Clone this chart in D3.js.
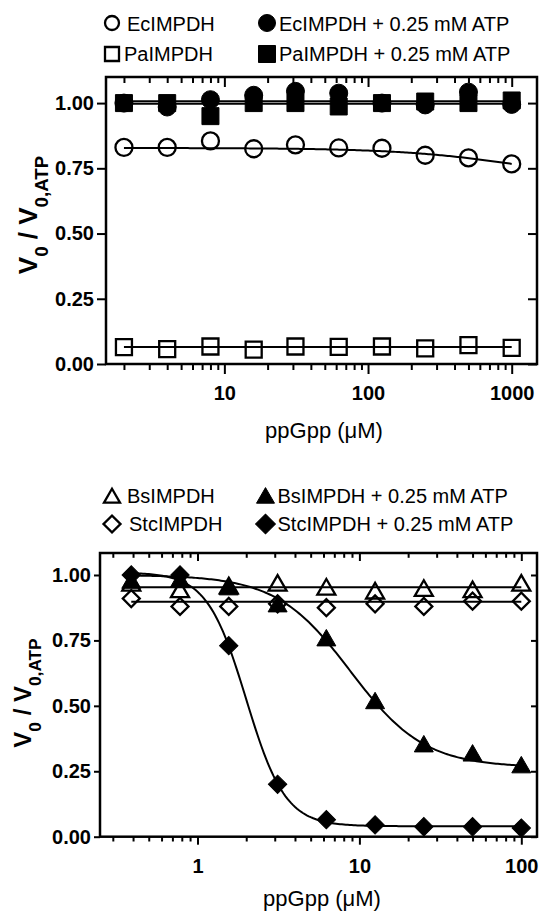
<!DOCTYPE html>
<html>
<head>
<meta charset="utf-8">
<script src="https://cdn.jsdelivr.net/npm/d3@7"></script>
<style>
  body { margin: 0; background: #fff; }
  svg { display: block; font-family: "Liberation Sans", Arial, sans-serif; }
  .tick text { font-family: "Liberation Sans", Arial, sans-serif; }
</style>
</head>
<body>
<div id="chart"></div>
<script>
// ---- data ----
var topConc = [2, 4, 8, 16, 31.25, 62.5, 125, 250, 500, 1000];
var ecImpdh = [0.83, 0.83, 0.855, 0.825, 0.84, 0.828, 0.827, 0.80, 0.79, 0.767];
var paImpdh = [0.065, 0.057, 0.067, 0.055, 0.067, 0.066, 0.067, 0.06, 0.072, 0.062];
var ecImpdhAtp = [1.0, 0.985, 1.013, 1.03, 1.045, 1.038, 1.0, 0.993, 1.042, 0.995];
var paImpdhAtp = [1.0, 1.0, 0.95, 1.0, 1.0, 0.987, 1.0, 1.006, 1.0, 1.01];

var botConc = [0.39, 0.78, 1.56, 3.125, 6.25, 12.5, 25, 50, 100];
var bsImpdh = [0.96, 0.935, 0.95, 0.96, 0.945, 0.93, 0.94, 0.935, 0.96];
var stcImpdh = [0.91, 0.88, 0.88, 0.89, 0.875, 0.89, 0.88, 0.9, 0.9];
var bsImpdhAtp = [0.97, 0.975, 0.945, 0.88, 0.75, 0.51, 0.345, 0.31, 0.265];
var stcImpdhAtp = [1.0, 1.0, 0.73, 0.2, 0.065, 0.045, 0.038, 0.038, 0.033];

// fitted dose-response parameters: [top, bottom, IC50, hill]
var ecFit = [0.828, 0.688, 1294, 1];
var paFit = [0.065, 0.065, 1, 1];
var ecAtpFit = [1.007, 1.007, 1, 1];
var paAtpFit = [0.997, 0.997, 1, 1];
var bsFit = [0.953, 0.953, 1, 1];
var stcFit = [0.898, 0.898, 1, 1];
var bsAtpFit = [1.0, 0.265, 8.8, 1.9];
var stcAtpFit = [1.01, 0.04, 2.0, 3.6];

var topMajor = [10, 100, 1000];
var botMajor = [1, 10, 100];
var yTicks = [0, 0.25, 0.5, 0.75, 1.0];

var W = 545, H = 915;
var FONT = "'Liberation Sans', Arial, sans-serif";

var svg = d3.select("#chart").append("svg")
    .attr("width", W)
    .attr("height", H);

svg.append("rect").attr("width", W).attr("height", H).attr("fill", "#fff");

function logistic(p, x) {
  return p[1] + (p[0] - p[1]) / (1 + Math.pow(x / p[2], p[3]));
}

function markerPath(type, size) {
  if (type == "circle") return d3.symbol(d3.symbolCircle, Math.PI * size * size)();
  if (type == "square" || type == "diamond") return d3.symbol(d3.symbolSquare, size * size)();
  if (type == "triangle") return d3.symbol(d3.symbolTriangle, size * size * Math.sqrt(3) / 4)();
}

function drawMarker(g, type, filled, size, x, y) {
  g.append("path")
      .attr("d", markerPath(type, size))
      .attr("transform", "translate(" + x + "," + y + ")" + (type == "diamond" ? " rotate(45)" : ""))
      .attr("fill", filled ? "#000" : "none")
      .attr("stroke", "#000")
      .attr("stroke-width", filled ? 1 : 2.3);
}

function drawPanel(p) {
  var g = svg.append("g");

  var x = d3.scaleLog().domain(p.xDomain).range([p.left, p.right]);
  var y = d3.scaleLinear().domain(p.yDomain).range([p.bottom, p.top]);

  var minor = x.ticks().filter(function(v) { return p.majors.indexOf(v) < 0; });

  // fitted curves
  var line = d3.line().x(function(d) { return x(d[0]); }).y(function(d) { return y(d[1]); });
  p.series.forEach(function(s) {
    var lo = Math.log10(d3.min(p.conc)), hi = Math.log10(d3.max(p.conc));
    var pts = d3.range(0, 201).map(function(i) {
      var c = Math.pow(10, lo + (hi - lo) * i / 200);
      return [c, logistic(s.fit, c)];
    });
    g.append("path")
        .attr("d", line(pts))
        .attr("fill", "none")
        .attr("stroke", "#000")
        .attr("stroke-width", 2);
  });

  // points
  p.series.forEach(function(s) {
    s.values.forEach(function(v, i) {
      drawMarker(g, s.shape, s.filled, s.size, x(p.conc[i]), y(v));
    });
  });

  // frame
  g.append("rect")
      .attr("x", p.left).attr("y", p.top)
      .attr("width", p.right - p.left).attr("height", p.bottom - p.top)
      .attr("fill", "none").attr("stroke", "#000").attr("stroke-width", 2.5);

  function styleAxis(a) {
    a.select(".domain").remove();
    a.selectAll(".tick line").attr("stroke", "#000").attr("stroke-width", 2);
    a.selectAll(".tick text")
        .attr("fill", "#000")
        .style("font", "bold 20px " + FONT);
  }

  // bottom axis
  g.append("g").attr("transform", "translate(0," + p.bottom + ")")
      .call(d3.axisBottom(x).tickValues(p.majors).tickSize(p.xTick).tickPadding(p.xPad).tickFormat(d3.format("d")))
      .call(styleAxis);
  g.append("g").attr("transform", "translate(0," + p.bottom + ")")
      .call(d3.axisBottom(x).tickValues(minor).tickSize(p.xTick * 0.6).tickFormat(""))
      .call(styleAxis);
  // top mirror ticks (inward)
  g.append("g").attr("transform", "translate(0," + p.top + ")")
      .call(d3.axisBottom(x).tickValues(p.majors).tickSize(p.xTick).tickFormat(""))
      .call(styleAxis);
  g.append("g").attr("transform", "translate(0," + p.top + ")")
      .call(d3.axisBottom(x).tickValues(minor).tickSize(p.xTick * 0.6).tickFormat(""))
      .call(styleAxis);
  // left axis
  g.append("g").attr("transform", "translate(" + p.left + ",0)")
      .call(d3.axisLeft(y).tickValues(yTicks).tickSize(p.yTick).tickPadding(3).tickFormat(d3.format(".2f")))
      .call(styleAxis);
  // right mirror ticks (inward)
  g.append("g").attr("transform", "translate(" + p.right + ",0)")
      .call(d3.axisLeft(y).tickValues(yTicks).tickSize(p.yTick).tickFormat(""))
      .call(styleAxis);

  // axis titles
  g.append("text")
      .attr("x", p.xTitleX).attr("y", p.xTitleY)
      .attr("text-anchor", "middle")
      .style("font", "22px " + FONT)
      .text("ppGpp (\u03BCM)");

  var yl = g.append("text")
      .attr("transform", "translate(" + p.yTitleX + "," + p.yTitleY + ") rotate(-90)")
      .attr("text-anchor", "middle")
      .style("font", "bold " + p.yTitleSize + "px " + FONT);
  yl.append("tspan").text("V");
  yl.append("tspan").attr("baseline-shift", "sub").attr("font-size", "72%").text("0");
  yl.append("tspan").text(" / V");
  yl.append("tspan").attr("baseline-shift", "sub").attr("font-size", "72%").text("0,ATP");

  // legend
  p.legend.forEach(function(l) {
    drawMarker(g, l.shape, l.filled, l.size, l.mx, l.my);
    g.append("text")
        .attr("x", l.tx).attr("y", l.ty)
        .style("font", "20px " + FONT)
        .text(l.label);
  });
}

drawPanel({
  left: 106, right: 537, top: 77, bottom: 364,
  xDomain: [1.5, 1500], yDomain: [0, 1.1],
  majors: topMajor, conc: topConc,
  xTick: 10, xPad: 12, yTick: 9,
  xTitleX: 324, xTitleY: 438,
  yTitleX: 37, yTitleY: 215, yTitleSize: 26,
  series: [
    {values: ecImpdh, fit: ecFit, shape: "circle", filled: false, size: 8.5},
    {values: paImpdh, fit: paFit, shape: "square", filled: false, size: 16},
    {values: ecImpdhAtp, fit: ecAtpFit, shape: "circle", filled: true, size: 9},
    {values: paImpdhAtp, fit: paAtpFit, shape: "square", filled: true, size: 17}
  ],
  legend: [
    {label: "EcIMPDH", shape: "circle", filled: false, size: 7, mx: 112, my: 23, tx: 127, ty: 30.5},
    {label: "PaIMPDH", shape: "square", filled: false, size: 14, mx: 112, my: 54, tx: 124, ty: 61},
    {label: "EcIMPDH + 0.25 mM ATP", shape: "circle", filled: true, size: 8.5, mx: 267, my: 23, tx: 279, ty: 30.5},
    {label: "PaIMPDH + 0.25 mM ATP", shape: "square", filled: true, size: 17, mx: 267, my: 54, tx: 279, ty: 61}
  ]
});

drawPanel({
  left: 100, right: 537, top: 553, bottom: 836.7,
  xDomain: [0.25, 125], yDomain: [0, 1.084],
  majors: botMajor, conc: botConc,
  xTick: 8, xPad: 14, yTick: 6,
  xTitleX: 322, xTitleY: 906,
  yTitleX: 31, yTitleY: 693, yTitleSize: 24,
  series: [
    {values: bsImpdh, fit: bsFit, shape: "triangle", filled: false, size: 18},
    {values: stcImpdh, fit: stcFit, shape: "diamond", filled: false, size: 12},
    {values: bsImpdhAtp, fit: bsAtpFit, shape: "triangle", filled: true, size: 19},
    {values: stcImpdhAtp, fit: stcAtpFit, shape: "diamond", filled: true, size: 13}
  ],
  legend: [
    {label: "BsIMPDH", shape: "triangle", filled: false, size: 16, mx: 112, my: 498, tx: 127, ty: 503},
    {label: "StcIMPDH", shape: "diamond", filled: false, size: 12, mx: 112, my: 524, tx: 129, ty: 531},
    {label: "BsIMPDH + 0.25 mM ATP", shape: "triangle", filled: true, size: 18, mx: 265.5, my: 498, tx: 277.5, ty: 503},
    {label: "StcIMPDH + 0.25 mM ATP", shape: "diamond", filled: true, size: 14, mx: 265.5, my: 524, tx: 277.5, ty: 531}
  ]
});
</script>
</body>
</html>
